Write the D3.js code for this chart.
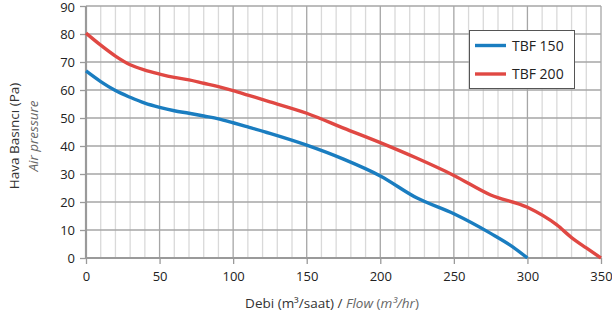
<!DOCTYPE html>
<html>
<head>
<meta charset="utf-8">
<script src="https://cdn.jsdelivr.net/npm/d3@7"></script>
<style>
  body { margin: 0; background: #fff; }
  text { font-family: "Open Sans", "Noto Sans", sans-serif; }
</style>
</head>
<body>
<svg id="chart"></svg>
<script>
// TBF 150 curve
var flow150 = [0, 10, 20, 30, 40, 50, 60, 70, 80, 90, 100, 110, 125, 150, 175, 200, 225, 250, 275, 290, 300];
var press150 = [66.8, 63, 59.8, 57.4, 55.3, 53.8, 52.6, 51.7, 50.7, 49.7, 48.3, 46.8, 44.5, 40.3, 35.3, 29.3, 21.4, 15.8, 8.8, 4.0, 0];
// TBF 200 curve
var flow200 = [0, 10, 20, 30, 40, 50, 60, 70, 80, 90, 100, 110, 125, 150, 175, 200, 225, 250, 275, 300, 320, 330, 340, 350];
var press200 = [80.3, 76, 72.1, 69, 67.1, 65.7, 64.5, 63.6, 62.4, 61.2, 59.8, 58.2, 55.8, 51.7, 46.4, 41.2, 35.6, 29.5, 22.5, 18.1, 11.8, 7.3, 3.6, 0];

var seriesNames = ["TBF 150", "TBF 200"];
var seriesColors = ["#1a7dc0", "#e04843"];
var xTicks = [0, 50, 100, 150, 200, 250, 300, 350];
var yTicks = [0, 10, 20, 30, 40, 50, 60, 70, 80, 90];

var screen = {width: 612, height: 319};
var margins = {left: 86, right: 11, top: 6, bottom: 61};
var graph = {
  width: screen.width - margins.left - margins.right,
  height: screen.height - margins.top - margins.bottom
};

var svg = d3.select("#chart")
  .attr("width", screen.width)
  .attr("height", screen.height);

var xScale = d3.scaleLinear().domain([0, 350]).range([0, graph.width]);
var yScale = d3.scaleLinear().domain([0, 90]).range([graph.height, 0]);

var g = svg.append("g")
  .attr("transform", "translate(" + margins.left + "," + margins.top + ")");

// minor vertical grid every 10
g.selectAll(".vminor")
  .data(d3.range(10, 350, 10).filter(function(d) { return d % 50 != 0; }))
  .enter().append("line")
  .attr("x1", function(d) { return xScale(d); })
  .attr("x2", function(d) { return xScale(d); })
  .attr("y1", 0).attr("y2", graph.height)
  .attr("stroke", "#d9d9d9").attr("stroke-width", 1.3);

// major vertical grid
g.selectAll(".vmajor")
  .data(xTicks.slice(1))
  .enter().append("line")
  .attr("x1", function(d) { return xScale(d); })
  .attr("x2", function(d) { return xScale(d); })
  .attr("y1", 0).attr("y2", graph.height)
  .attr("stroke", "#a6a6a6").attr("stroke-width", 1.3);

// horizontal grid
g.selectAll(".hgrid")
  .data(yTicks.slice(1))
  .enter().append("line")
  .attr("x1", 0).attr("x2", graph.width)
  .attr("y1", function(d) { return yScale(d); })
  .attr("y2", function(d) { return yScale(d); })
  .attr("stroke", "#a6a6a6").attr("stroke-width", 1.3);

// axes
var xAxis = d3.axisBottom(xScale).tickValues(xTicks).tickSize(6).tickPadding(8);
var yAxis = d3.axisLeft(yScale).tickValues(yTicks).tickSize(6).tickPadding(5);

var gx = g.append("g")
  .attr("transform", "translate(0," + graph.height + ")")
  .call(xAxis);
var gy = g.append("g").call(yAxis);

[gx, gy].forEach(function(a) {
  a.select(".domain").attr("stroke", "#9a9a9a").attr("stroke-width", 2.2);
  a.selectAll(".tick line").attr("stroke", "#9a9a9a").attr("stroke-width", 1.3);
  a.selectAll(".tick text")
    .attr("fill", "#222")
    .style("font-size", "13px")
    .style("font-family", "'Open Sans', sans-serif");
});
gx.select(".domain").attr("d", "M0,0H" + graph.width);
gy.select(".domain").attr("d", "M0," + graph.height + "V0");
// top label sits right at the edge, nudge it down a hair
gy.selectAll(".tick text").filter(function(d) { return d == 90; }).attr("dy", "0.42em");

// curves
var line = d3.line()
  .x(function(d) { return xScale(d[0]); })
  .y(function(d) { return yScale(d[1]); })
  .curve(d3.curveMonotoneX);

var series = [
  d3.zip(flow150, press150),
  d3.zip(flow200, press200)
];

g.selectAll(".curve")
  .data(series)
  .enter().append("path")
  .attr("d", line)
  .attr("fill", "none")
  .attr("stroke", function(d, i) { return seriesColors[i]; })
  .attr("stroke-width", 3.4);

// legend
var legend = svg.append("g");
legend.append("rect")
  .attr("x", 469.5).attr("y", 30.5)
  .attr("width", 105).attr("height", 58)
  .attr("fill", "#fff").attr("stroke", "#555").attr("stroke-width", 1);

seriesNames.forEach(function(name, i) {
  var yy = 45.5 + i * 28.5;
  legend.append("line")
    .attr("x1", 475).attr("x2", 506)
    .attr("y1", yy).attr("y2", yy)
    .attr("stroke", seriesColors[i]).attr("stroke-width", 3.4);
  legend.append("text")
    .attr("x", 512).attr("y", yy + 5)
    .attr("fill", "#222")
    .style("font-size", "14px")
    .text(name);
});

// y axis titles
svg.append("text")
  .attr("transform", "translate(19,136) rotate(-90)")
  .attr("text-anchor", "middle")
  .attr("fill", "#333")
  .style("font-size", "13.5px")
  .text("Hava Basıncı (Pa)");
svg.append("text")
  .attr("transform", "translate(38,136) rotate(-90)")
  .attr("text-anchor", "middle")
  .attr("fill", "#666")
  .style("font-size", "13.5px")
  .style("font-style", "italic")
  .text("Air pressure");

// x axis title
var xt = svg.append("text")
  .attr("x", 332).attr("y", 308)
  .attr("text-anchor", "middle")
  .attr("fill", "#333")
  .style("font-size", "13.5px");
xt.append("tspan").text("Debi (m³/saat) / ");
xt.append("tspan").attr("fill", "#666").style("font-style", "italic").text("Flow");
xt.append("tspan").attr("fill", "#666").text(" (");
xt.append("tspan").attr("fill", "#666").style("font-style", "italic").text("m³/hr");
xt.append("tspan").attr("fill", "#666").text(")");
</script>
</body>
</html>
